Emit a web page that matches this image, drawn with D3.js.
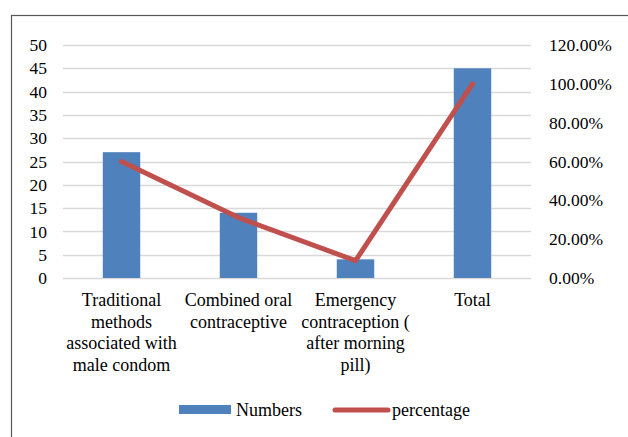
<!DOCTYPE html>
<html>
<head>
<meta charset="utf-8">
<script src="https://cdn.jsdelivr.net/npm/d3@7"></script>
<style>
  html, body { margin: 0; padding: 0; background: #fff; }
  svg { display: block; font-family: "Liberation Serif", "Times New Roman", serif; }
</style>
</head>
<body>
<svg id="chart" width="628" height="437"></svg>
<script>
// Contraceptive methods used: counts and share of total
const categories = [
  ["Traditional", "methods", "associated with", "male condom"],
  ["Combined oral", "contraceptive"],
  ["Emergency", "contraception (", "after morning", "pill)"],
  ["Total"]
];
const numbers = [27, 14, 4, 45];
const percentage = [0.60, 0.311, 0.089, 1.00];
const leftTicks = [0, 5, 10, 15, 20, 25, 30, 35, 40, 45, 50];
const rightTicks = [0, 0.2, 0.4, 0.6, 0.8, 1.0, 1.2];

const svg = d3.select("#chart");
const plot = { left: 63, right: 531, top: 45, bottom: 278 };
const FONT = "Liberation Serif";

// Outer chart border (right and bottom edges run past the canvas)
svg.append("rect")
  .attr("x", 11.5).attr("y", 15.5)
  .attr("width", 640).attr("height", 440)
  .attr("fill", "none").attr("stroke", "#595959").attr("stroke-width", 1.2);

const x = d3.scaleBand()
  .domain(d3.range(categories.length))
  .range([plot.left, plot.right])
  .paddingInner(0.68).paddingOuter(0.34);
const xc = i => x(i) + x.bandwidth() / 2;

const yL = d3.scaleLinear().domain([0, 50]).range([plot.bottom, plot.top]);
const yR = d3.scaleLinear().domain([0, 1.2]).range([plot.bottom, plot.top]);

// Horizontal gridlines
svg.append("g").selectAll("line").data(leftTicks).join("line")
  .attr("x1", plot.left).attr("x2", plot.right)
  .attr("y1", d => Math.round(yL(d)) + 0.5).attr("y2", d => Math.round(yL(d)) + 0.5)
  .attr("stroke", "#d9d9d9").attr("stroke-width", 1.3);

// Left axis
const leftAxis = svg.append("g")
  .attr("transform", `translate(${plot.left},0)`)
  .call(d3.axisLeft(yL).tickValues(leftTicks).tickSize(0).tickPadding(16).tickFormat(d3.format("d")));
leftAxis.select(".domain").remove();
leftAxis.selectAll("text")
  .attr("font-family", FONT).attr("font-size", 17.5).attr("fill", "#000");

// Right axis
const rightAxis = svg.append("g")
  .attr("transform", `translate(${plot.right},0)`)
  .call(d3.axisRight(yR).tickValues(rightTicks).tickSize(0).tickPadding(18).tickFormat(d3.format(".2%")));
rightAxis.select(".domain").remove();
rightAxis.selectAll("text")
  .attr("font-family", FONT).attr("font-size", 17.5).attr("fill", "#000");

// Bars
svg.append("g").selectAll("rect").data(numbers).join("rect")
  .attr("x", (d, i) => x(i)).attr("width", x.bandwidth())
  .attr("y", d => yL(d)).attr("height", d => yL(0) - yL(d))
  .attr("fill", "#4f81bd");

// Percentage line
const line = d3.line().x((d, i) => xc(i)).y(d => yR(d));
svg.append("path").datum(percentage)
  .attr("d", line)
  .attr("fill", "none").attr("stroke", "#c0504d")
  .attr("stroke-width", 5).attr("stroke-linecap", "round").attr("stroke-linejoin", "round");

// Category labels
const catG = svg.append("g").attr("font-family", FONT).attr("font-size", 18)
  .attr("text-anchor", "middle").attr("fill", "#000");
categories.forEach((lines, i) => {
  const t = catG.append("text").attr("x", xc(i)).attr("y", 306);
  lines.forEach((s, j) => {
    t.append("tspan").attr("x", xc(i)).attr("dy", j === 0 ? 0 : 21.6).text(s);
  });
});

// Legend
const lg = svg.append("g").attr("font-family", FONT).attr("font-size", 18).attr("fill", "#000");
lg.append("rect").attr("x", 179).attr("y", 405).attr("width", 52).attr("height", 9).attr("fill", "#4f81bd");
lg.append("text").attr("x", 236).attr("y", 416).text("Numbers");
lg.append("line").attr("x1", 335).attr("x2", 388).attr("y1", 410).attr("y2", 410)
  .attr("stroke", "#c0504d").attr("stroke-width", 5).attr("stroke-linecap", "round");
lg.append("text").attr("x", 392).attr("y", 416).text("percentage");
</script>
</body>
</html>
